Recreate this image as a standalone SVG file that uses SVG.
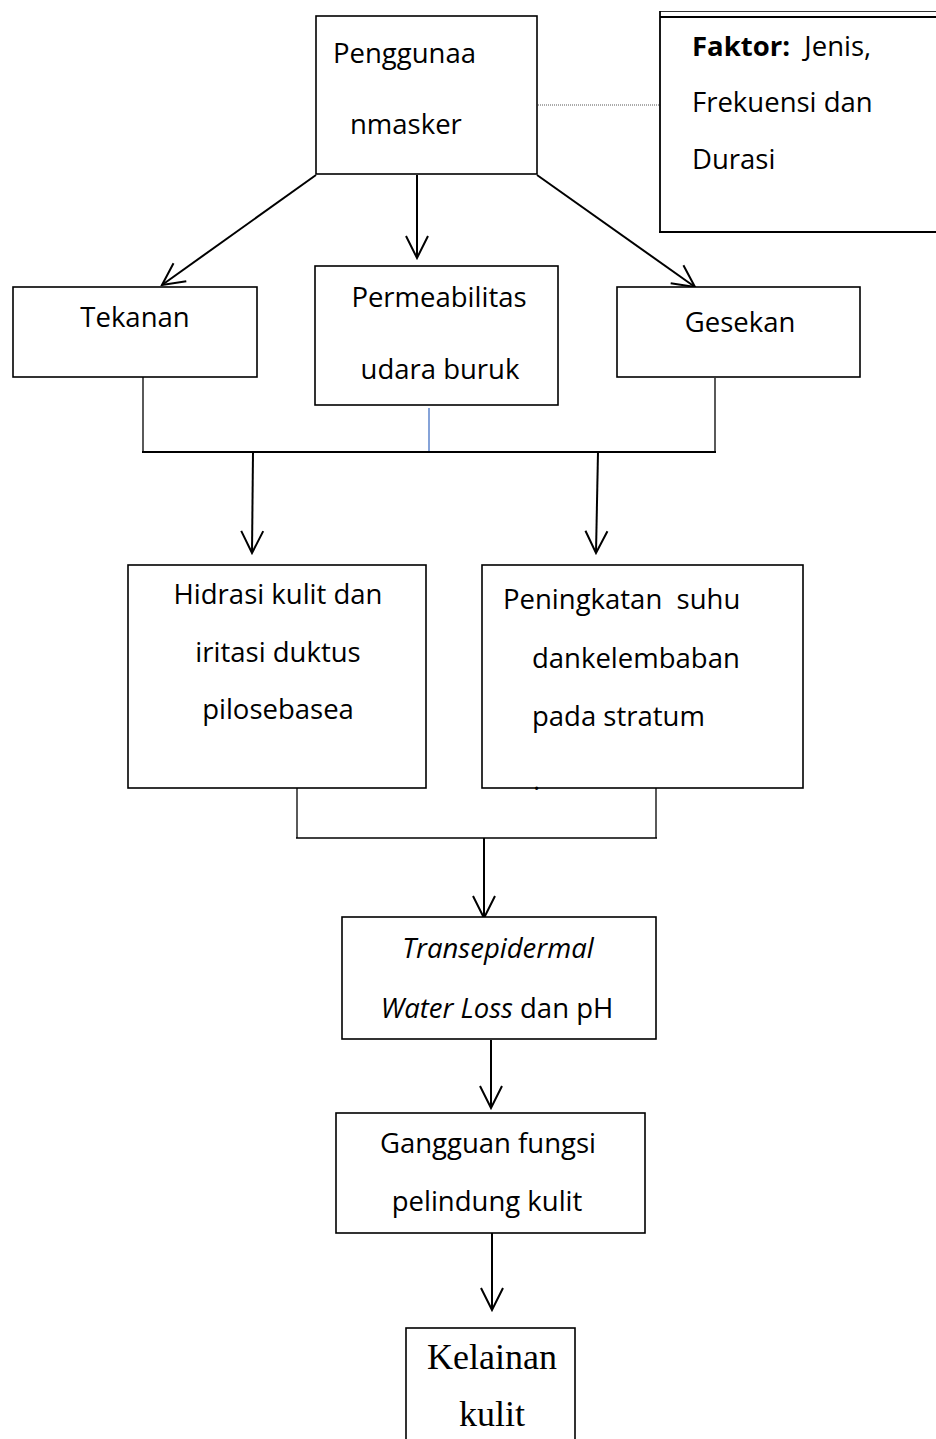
<svg xmlns="http://www.w3.org/2000/svg" width="936" height="1439" viewBox="0 0 936 1439">
<defs>
<style>
.box{fill:#fff;stroke:#000;stroke-width:1.6}
.t{font-family:"Open Sans","Liberation Sans",sans-serif;font-size:27.5px;fill:#000}
.c{text-anchor:middle}
.s{font-family:"Liberation Serif","Times New Roman",serif;font-size:36px;fill:#000;text-anchor:middle}
.ln{stroke:#000;stroke-width:1.3;fill:none}
.ar{stroke:#000;stroke-width:2;fill:none;marker-end:url(#v)}
</style>
<marker id="v" viewBox="-24 -13 26 26" refX="0" refY="0" markerWidth="26" markerHeight="26" markerUnits="userSpaceOnUse" orient="auto">
<path d="M-22,-11 L0,0 L-22,11" fill="none" stroke="#000" stroke-width="2"/>
</marker>
</defs>
<rect width="936" height="1439" fill="#fff"/>

<g id="connectors">
<line x1="538" y1="105" x2="660" y2="105" stroke="#555" stroke-width="1" stroke-dasharray="1,1"/>
<line class="ar" x1="316" y1="175" x2="162" y2="285"/>
<line class="ar" x1="417" y1="175" x2="417" y2="258"/>
<line class="ar" x1="537" y1="175" x2="695" y2="287"/>
<line class="ln" x1="143" y1="377" x2="143" y2="452"/>
<line class="ln" x1="715" y1="378" x2="715" y2="452"/>
<line x1="429" y1="408" x2="429" y2="452" stroke="#4472C4" stroke-width="1.3"/>
<line x1="142" y1="452" x2="716" y2="452" stroke="#000" stroke-width="2.2"/>
<line class="ar" x1="253" y1="452" x2="252" y2="553"/>
<line class="ar" x1="598" y1="452" x2="596" y2="553"/>
<line class="ln" x1="297" y1="788" x2="297" y2="838"/>
<line class="ln" x1="656" y1="788" x2="656" y2="838"/>
<line x1="296" y1="838" x2="657" y2="838" stroke="#000" stroke-width="1.6"/>
<line class="ar" x1="484" y1="838" x2="484" y2="918"/>
<line class="ar" x1="491" y1="1040" x2="491" y2="1108"/>
<line class="ar" x1="492" y1="1233" x2="492" y2="1310"/>
</g>

<g id="masker">
<rect class="box" x="316" y="16" width="221" height="158" stroke-width="2.4"/>
<text class="t" x="333" y="63">Penggunaa</text>
<text class="t" x="350" y="134">nmasker</text>
</g>

<g id="faktor">
<line x1="660" y1="11.5" x2="936" y2="11.5" stroke="#333" stroke-width="1"/>
<line x1="660" y1="17" x2="936" y2="17" stroke="#000" stroke-width="1.8"/>
<line x1="660" y1="11" x2="660" y2="233" stroke="#000" stroke-width="1.8"/>
<line x1="659" y1="232" x2="936" y2="232" stroke="#000" stroke-width="1.8"/>
<text class="t" x="692" y="56" xml:space="preserve"><tspan font-weight="bold">Faktor:</tspan>  Jenis,</text>
<text class="t" x="692" y="112">Frekuensi dan</text>
<text class="t" x="692" y="169">Durasi</text>
</g>

<g id="tekanan">
<rect class="box" x="13" y="287" width="244" height="90" stroke-width="1.4"/>
<text class="t c" x="135" y="327">Tekanan</text>
</g>

<g id="permeabilitas">
<rect class="box" x="315" y="266" width="243" height="139" stroke-width="2"/>
<text class="t c" x="439" y="307">Permeabilitas</text>
<text class="t c" x="440" y="379">udara buruk</text>
</g>

<g id="gesekan">
<rect class="box" x="617" y="287" width="243" height="90" stroke-width="1.4"/>
<text class="t c" x="740" y="332">Gesekan</text>
</g>

<g id="hidrasi">
<rect class="box" x="128" y="565" width="298" height="223"/>
<text class="t c" x="278" y="604">Hidrasi kulit dan</text>
<text class="t c" x="278" y="662">iritasi duktus</text>
<text class="t c" x="278" y="719">pilosebasea</text>
</g>

<g id="peningkatan">
<rect class="box" x="482" y="565" width="321" height="223"/>
<text class="t" x="503" y="609" xml:space="preserve">Peningkatan  suhu</text>
<text class="t" x="532" y="668">dankelembaban</text>
<text class="t" x="532" y="726">pada stratum</text>
<text class="t" x="533" y="790">.</text>
</g>

<g id="tewl">
<rect class="box" x="342" y="917" width="314" height="122"/>
<text class="t c" x="498" y="958" font-style="italic">Transepidermal</text>
<text class="t c" x="497" y="1018"><tspan font-style="italic">Water Loss</tspan> dan pH</text>
</g>

<g id="gangguan">
<rect class="box" x="336" y="1113" width="309" height="120"/>
<text class="t c" x="488" y="1153">Gangguan fungsi</text>
<text class="t c" x="487" y="1211">pelindung kulit</text>
</g>

<g id="kelainan">
<rect class="box" x="406" y="1328" width="169" height="130"/>
<text class="s" x="492" y="1369">Kelainan</text>
<text class="s" x="492" y="1426">kulit</text>
</g>
</svg>
